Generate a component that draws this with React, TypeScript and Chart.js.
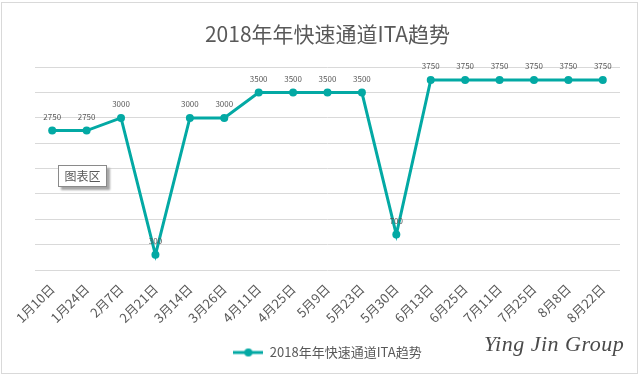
import React, { useEffect, useRef } from "react";
import { Chart, registerables } from "chart.js";

Chart.register(...registerables);

const categories = [
  "1月10日", "1月24日", "2月7日", "2月21日", "3月14日", "3月26日", "4月11日", "4月25日",
  "5月9日", "5月23日", "5月30日", "6月13日", "6月25日", "7月11日", "7月25日", "8月8日", "8月22日",
];
const itaValues = [2750, 2750, 3000, 300, 3000, 3000, 3500, 3500, 3500, 3500, 700, 3750, 3750, 3750, 3750, 3750, 3750];
const seriesName = "2018年年快速通道ITA趋势";
const titleText = "2018年年快速通道ITA趋势";
const yMin = 0;
const yMax = 4000;
const yStep = 500;

const TEAL = "#03A9A4";
const GRAY = "#595959";
const FONT = "'Noto Sans CJK SC', 'Noto Sans', sans-serif";

const dataLabelPlugin = {
  id: "dataLabels",
  afterDatasetsDraw(chart: any) {
    const ctx = chart.ctx;
    chart.data.datasets.forEach((ds: any, i: number) => {
      const meta = chart.getDatasetMeta(i);
      meta.data.forEach((pt: any, j: number) => {
        ctx.save();
        ctx.font = "8px " + FONT;
        ctx.fillStyle = GRAY;
        ctx.textAlign = "center";
        ctx.textBaseline = "middle";
        ctx.fillText(String(ds.data[j]), pt.x, pt.y - 14);
        ctx.restore();
      });
    });
  },
};

function makeLegendIcon() {
  const c = document.createElement("canvas");
  c.width = 30;
  c.height = 10;
  const g = c.getContext("2d")!;
  g.strokeStyle = TEAL;
  g.lineWidth = 3;
  g.beginPath();
  g.moveTo(0, 5);
  g.lineTo(30, 5);
  g.stroke();
  g.fillStyle = TEAL;
  g.beginPath();
  g.arc(15, 5, 4, 0, Math.PI * 2);
  g.fill();
  return c;
}

export default function App() {
  const ref = useRef<HTMLCanvasElement>(null);
  useEffect(() => {
    if (!ref.current) return;
    const icon = makeLegendIcon();
    const chart = new Chart(ref.current, {
      type: "line",
      data: {
        labels: categories,
        datasets: [
          {
            label: seriesName,
            data: itaValues,
            borderColor: TEAL,
            backgroundColor: TEAL,
            borderWidth: 3,
            pointRadius: 4,
            pointBackgroundColor: TEAL,
            pointBorderColor: TEAL,
            pointBorderWidth: 0,
            tension: 0,
          },
        ],
      },
      options: {
        animation: false,
        responsive: true,
        maintainAspectRatio: false,
        layout: { padding: { left: 35, right: 20, top: 0, bottom: 9 } },
        plugins: {
          title: {
            display: true,
            text: titleText,
            color: GRAY,
            font: { family: FONT, size: 21, weight: "normal" as any },
            padding: { top: 21, bottom: 21 },
          },
          legend: {
            display: true,
            position: "bottom",
            labels: {
              usePointStyle: true,
              pointStyleWidth: 30,
              color: GRAY,
              font: { family: FONT, size: 13 },
              padding: 10,
              generateLabels: (ch: any) => {
                const items = (Chart.defaults.plugins.legend.labels as any).generateLabels(ch);
                items.forEach((it: any) => (it.pointStyle = icon));
                return items;
              },
            },
          },
          tooltip: { enabled: false },
        },
        scales: {
          x: {
            offset: true,
            grid: { display: false },
            border: { display: false },
            ticks: {
              color: GRAY,
              font: { family: FONT, size: 13 },
              minRotation: 45,
              maxRotation: 45,
              autoSkip: false,
              padding: 3,
            },
            afterFit: (s: any) => {
              s.height = 66;
            },
          },
          y: {
            min: yMin,
            max: yMax,
            ticks: { display: false, stepSize: yStep },
            grid: { color: "#d9d9d9", drawTicks: false, lineWidth: 1 },
            border: { display: false },
            afterFit: (s: any) => {
              s.width = 0;
            },
          },
        },
      },
      plugins: [dataLabelPlugin],
    });
    return () => chart.destroy();
  }, []);

  return (
    <div style={{ position: "absolute", left: 0, top: 0, width: 640, height: 378, background: "#fff" }}>
      <div
        style={{
          position: "absolute",
          left: 1,
          top: 2,
          width: 635,
          height: 370,
          border: "1px solid #d9d9d9",
          boxSizing: "content-box",
        }}
      />
      <canvas ref={ref} style={{ position: "absolute", left: 0, top: 0, width: 640, height: 378 }} />
      <div
        style={{
          position: "absolute",
          left: 58,
          top: 165,
          width: 47,
          height: 20,
          border: "1px solid #8a8a8a",
          background: "#fff",
          boxShadow: "3px 3px 2px #a6a6a6",
          fontFamily: FONT,
          fontSize: 12,
          color: GRAY,
          lineHeight: "20px",
          textAlign: "center",
        }}
      >
        图表区
      </div>
      <div
        style={{
          position: "absolute",
          left: 484,
          top: 331,
          fontFamily: "'Liberation Serif', 'DejaVu Serif', serif",
          fontStyle: "italic",
          fontSize: 22,
          color: "#4a4a4a",
          letterSpacing: 0.5,
          whiteSpace: "nowrap",
        }}
      >
        Ying Jin Group
      </div>
    </div>
  );
}
